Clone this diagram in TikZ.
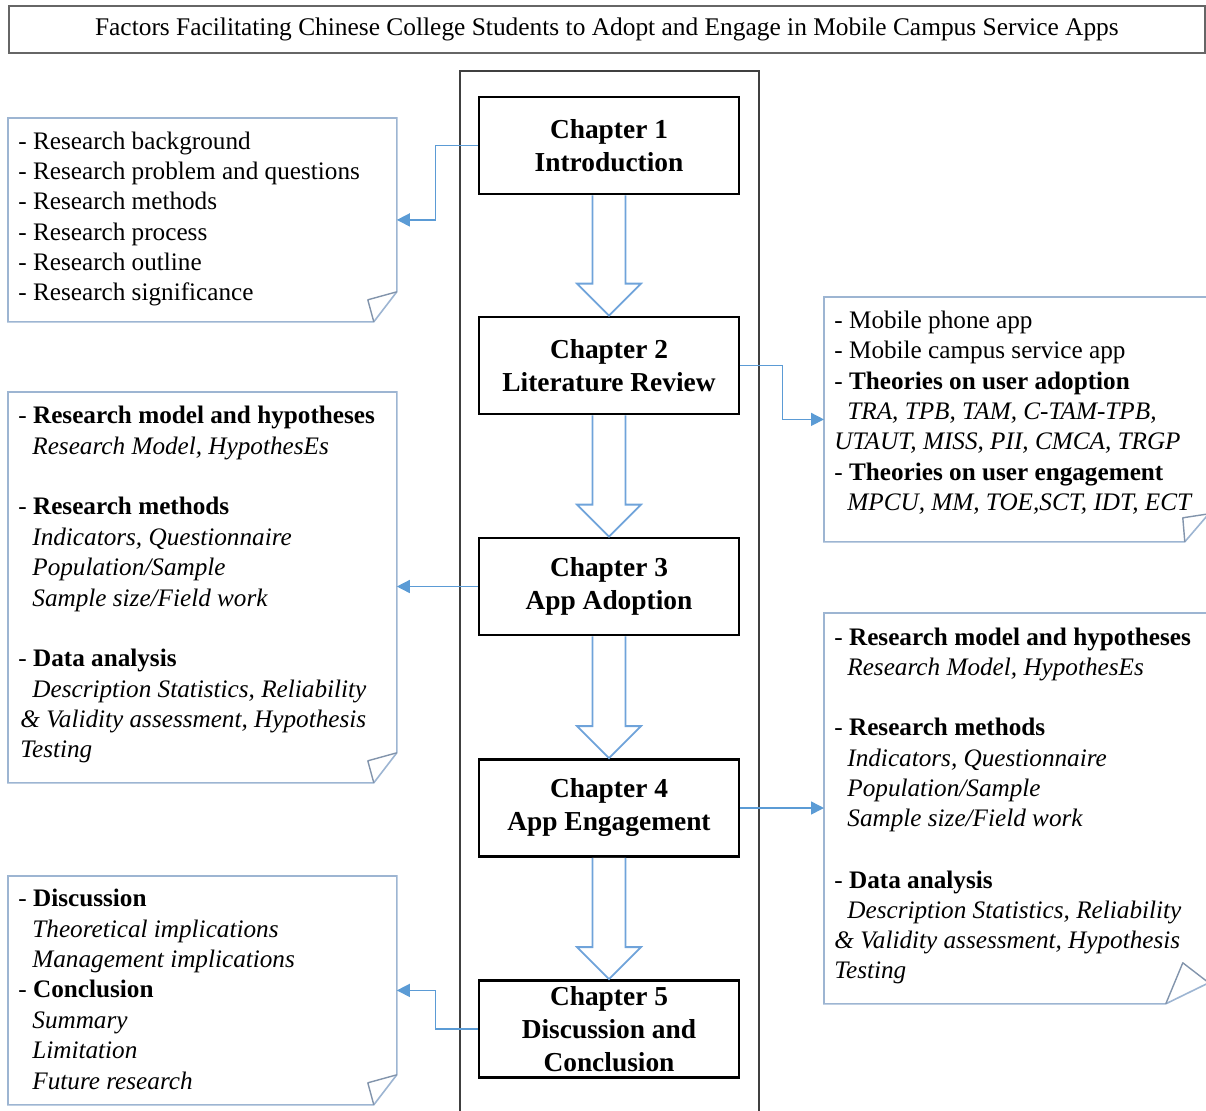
\documentclass[tikz,border=0pt]{standalone}
\usepackage{fontspec}
\setmainfont{Liberation Serif}
\usetikzlibrary{calc,arrows.meta}

\definecolor{linkblue}{HTML}{5B9BD5}
\definecolor{noteedge}{HTML}{9DB5D2}
\definecolor{foldedge}{HTML}{8294AC}
\definecolor{hollowblue}{HTML}{6FA3DA}

\tikzset{
  chapterbox/.style={draw=black, line width=1.4pt, fill=white,
    minimum width=130pt, minimum height=48.5pt, inner sep=0pt,
    align=center, font=\fontsize{13.7}{16.5}\selectfont\bfseries},
  notearea/.style={draw=none, inner sep=0pt, anchor=north west},
  noteoutline/.style={draw=noteedge, line width=0.8pt, fill=white},
  foldline/.style={draw=foldedge, line width=0.7pt, line join=round},
  txt/.style={inner sep=0pt, anchor=base west, font=\fontsize{12.6}{15}\selectfont},
  conn/.style={draw=linkblue, line width=0.75pt,
    -{Triangle[length=6.5pt,width=6.5pt,fill=linkblue]}},
  hollow/.style={draw=hollowblue, line width=0.9pt, fill=white, line join=miter},
}

% one text line of a note, placed by its baseline
\newcommand\noteline[4]{\node[txt] (#1) at (#2,#3) {#4};}
% folded-corner outline around a note area node:
% #2 = cut length along the bottom, #3/#4 = flap tip offset, #5 = cut length up the side
\newcommand\foldednote[5]{%
  \draw[noteoutline] (#1.north west) -- (#1.north east)
    -- ($(#1.south east)+(0,-#5)$) -- ($(#1.south east)+(-#2,0)$)
    -- (#1.south west) -- cycle;
  \draw[foldline] ($(#1.south east)+(0,-#5)$) -- ($(#1.south east)+(-#3,-#4)$)
    -- ($(#1.south east)+(-#2,0)$);
}
% hollow block arrow from one chapter box to the next
\newcommand\hollowarrow[2]{%
  \draw[hollow] ($(#1.south)+(-16.5,0)$) -- ($(#2.north)+(-16.5,-32)$)
    -- ($(#2.north)+(-32,-32)$) -- (#2.north) -- ($(#2.north)+(32,-32)$)
    -- ($(#2.north)+(16.5,-32)$) -- ($(#1.south)+(16.5,0)$);
}

\begin{document}
\begin{tikzpicture}[x=0.5pt, y=-0.5pt]
\useasboundingbox (0,0) rectangle (1206,1110);

% title banner
\node[draw=black!60, line width=0.9pt, minimum width=598pt, minimum height=23.5pt,
  inner sep=0pt, anchor=north west, font=\fontsize{12.7}{15}\selectfont]
  (title) at (8,5) {Factors Facilitating Chinese College Students to Adopt and Engage in Mobile Campus Service Apps};

% central column frame
\draw[draw=black!75, line width=0.7pt] (460,1112) -- (460,71) -- (759,71) -- (759,1112);

% chapter boxes
\node[chapterbox] (ch1) at (609,145.5) {Chapter 1\\Introduction};
\node[chapterbox] (ch2) at (609,365.5) {Chapter 2\\Literature Review};
\node[chapterbox] (ch3) at (609,586.5) {Chapter 3\\App Adoption};
\node[chapterbox] (ch4) at (609,808) {Chapter 4\\App Engagement};
\node[chapterbox] (ch5) at (609,1029) {Chapter 5\\Discussion and\\Conclusion};

\hollowarrow{ch1}{ch2}
\hollowarrow{ch2}{ch3}
\hollowarrow{ch3}{ch4}
\hollowarrow{ch4}{ch5}

% note areas
\node[notearea, minimum width=194pt, minimum height=101.5pt] (n1) at (8,118) {};
\node[notearea, minimum width=194pt, minimum height=195pt] (n2) at (8,392) {};
\node[notearea, minimum width=194pt, minimum height=114pt] (n3) at (8,876) {};
\node[notearea, minimum width=192pt, minimum height=122pt] (r1) at (824,297) {};
\node[notearea, minimum width=192pt, minimum height=195pt] (r2) at (824,613) {};

\foldednote{n1}{23}{29}{22}{30}
\foldednote{n2}{23}{29}{22}{30}
\foldednote{n3}{23}{29}{22}{30}
\foldednote{r1}{24}{26}{24}{28}
\foldednote{r2}{43}{26}{41}{21}

% connectors
\draw[conn] (ch1.west) -- ++(-42,0) |- (n1.east);
\draw[conn] (ch2.east) -- ++(42,0) |- (r1.west);
\draw[conn] (ch3.west) -- (ch3.west -| n2.east);
\draw[conn] (ch4.east) -- (ch4.east -| r2.west);
\draw[conn] (ch5.west) -- ++(-42,0) |- (n3.east);

% texts of the first note
\noteline{a1}{18}{149}{- Research background}
\noteline{a2}{18}{179}{- Research problem and questions}
\noteline{a3}{18}{209}{- Research methods}
\noteline{a4}{18}{240}{- Research process}
\noteline{a5}{18}{270}{- Research outline}
\noteline{a6}{18}{300}{- Research significance}

% texts of the second note
\noteline{b1}{18}{423}{- \textbf{Research model and hypotheses}}
\noteline{b2}{32}{454}{\textit{Research Model, HypothesEs}}
\noteline{b3}{18}{514}{- \textbf{Research methods}}
\noteline{b4}{32}{545}{\textit{Indicators, Questionnaire}}
\noteline{b5}{32}{575}{\textit{Population/Sample}}
\noteline{b6}{32}{606}{\textit{Sample size/Field work}}
\noteline{b7}{18}{666}{- \textbf{Data analysis}}
\noteline{b8}{32}{697}{\textit{Description Statistics, Reliability}}
\noteline{b9}{20}{727}{\textit{\& Validity assessment, Hypothesis}}
\noteline{b10}{20}{757}{\textit{Testing}}

% texts of the third note
\noteline{c1}{18}{906}{- \textbf{Discussion}}
\noteline{c2}{32}{937}{\textit{Theoretical implications}}
\noteline{c3}{32}{967}{\textit{Management implications}}
\noteline{c4}{18}{997}{- \textbf{Conclusion}}
\noteline{c5}{32}{1028}{\textit{Summary}}
\noteline{c6}{32}{1058}{\textit{Limitation}}
\noteline{c7}{32}{1089}{\textit{Future research}}

% texts of the fourth note
\noteline{d1}{834}{328}{- Mobile phone app}
\noteline{d2}{834}{358}{- Mobile campus service app}
\noteline{d3}{834}{389}{- \textbf{Theories on user adoption}}
\noteline{d4}{847}{419}{\textit{TRA, TPB, TAM, C-TAM-TPB,}}
\noteline{d5}{834}{449}{\textit{UTAUT, MISS, PII, CMCA, TRGP}}
\noteline{d6}{834}{480}{- \textbf{Theories on user engagement}}
\noteline{d7}{847}{510}{\textit{MPCU, MM, TOE,SCT, IDT, ECT}}

% texts of the fifth note
\noteline{e1}{834}{645}{- \textbf{Research model and hypotheses}}
\noteline{e2}{847}{675}{\textit{Research Model, HypothesEs}}
\noteline{e3}{834}{735}{- \textbf{Research methods}}
\noteline{e4}{847}{766}{\textit{Indicators, Questionnaire}}
\noteline{e5}{847}{796}{\textit{Population/Sample}}
\noteline{e6}{847}{826}{\textit{Sample size/Field work}}
\noteline{e7}{834}{888}{- \textbf{Data analysis}}
\noteline{e8}{847}{918}{\textit{Description Statistics, Reliability}}
\noteline{e9}{834}{948}{\textit{\& Validity assessment, Hypothesis}}
\noteline{e10}{834}{978}{\textit{Testing}}
\end{tikzpicture}
\end{document}
